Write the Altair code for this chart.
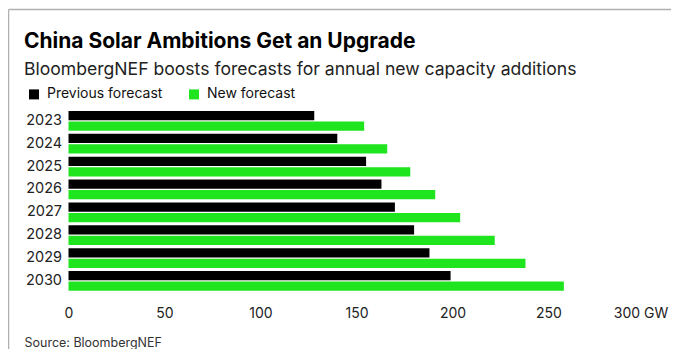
import altair as alt
import pandas as pd

years = ["2023", "2024", "2025", "2026", "2027", "2028", "2029", "2030"]
previous_forecast = [128, 140, 155, 163, 170, 180, 188, 199]
new_forecast = [154, 166, 178, 191, 204, 222, 238, 258]
series_names = ["Previous forecast", "New forecast"]
series_colors = ["#000000", "#1ee51e"]
x_ticks = [0, 50, 100, 150, 200, 250, 300]

rows = []
for i, y in enumerate(years):
    rows.append({"year": y, "series": series_names[0], "gw": previous_forecast[i]})
    rows.append({"year": y, "series": series_names[1], "gw": new_forecast[i]})
df = pd.DataFrame(rows)

FONT = "Inter"

bars = alt.Chart(df).mark_bar().encode(
    x=alt.X(
        "gw:Q",
        scale=alt.Scale(domain=[0, 300], nice=False, zero=True),
        axis=alt.Axis(
            values=x_ticks,
            labelExpr="datum.value == 300 ? '300 GW' : datum.label",
            labelFlush=False,
            labelOffset={"condition": {"test": "datum.value === 300", "value": -4}, "value": 0},
            grid=False,
            domain=False,
            ticks=False,
            labelPadding=14,
            labelFontSize=14,
            labelColor="#222222",
            labelFont=FONT,
            title="Source: BloombergNEF",
            titleX=-44.5,
            titleY=54,
            titleAlign="left",
            titleBaseline="alphabetic",
            titleFontWeight="normal",
            titleFontSize=12.5,
            titleColor="#333333",
            titleFont=FONT,
        ),
    ),
    y=alt.Y(
        "year:N",
        sort=years,
        scale=alt.Scale(paddingInner=0.14, paddingOuter=0.07),
        axis=alt.Axis(
            title=None,
            ticks=False,
            domain=False,
            labelPadding=7,
            labelFontSize=14.5,
            labelColor="#222222",
            labelFont=FONT,
        ),
    ),
    yOffset=alt.YOffset(
        "series:N",
        sort=series_names,
        scale=alt.Scale(paddingInner=0.12),
    ),
    color=alt.Color(
        "series:N",
        sort=series_names,
        scale=alt.Scale(domain=series_names, range=series_colors),
        legend=alt.Legend(
            title=None,
            orient="none",
            legendX=-41.5,
            legendY=-22,
            direction="horizontal",
            symbolType="square",
            symbolSize=100,
            symbolStrokeWidth=0,
            labelFontSize=14,
            labelFont=FONT,
            labelColor="#111111",
            labelOffset=6,
            columnPadding=24,
        ),
    ),
)

frame_df = pd.DataFrame({"k": [0]})
frame_left = alt.Chart(frame_df).mark_rule(color="#b0b0b0", strokeWidth=1.5).encode(
    x=alt.value(-60), y=alt.value(-100), y2=alt.value(240)
)
frame_top = alt.Chart(frame_df).mark_rule(color="#b0b0b0", strokeWidth=1.5).encode(
    x=alt.value(-60), x2=alt.value(603), y=alt.value(-100)
)

chart = alt.layer(frame_left, frame_top, bars).properties(
    width=576,
    height=183,
    padding={"left": 60.5, "top": 101.4, "right": 26.5, "bottom": 56.5},
    autosize=alt.AutoSizeParams(type="none"),
    title=alt.TitleParams(
        text="China Solar Ambitions Get an Upgrade",
        subtitle="BloombergNEF boosts forecasts for annual new capacity additions",
        anchor="start",
        frame="group",
        dx=-44.5,
        offset=-70,
        font=FONT,
        fontSize=21,
        fontWeight="bold",
        color="#000000",
        subtitleFont=FONT,
        subtitleFontSize=17.6,
        subtitleColor="#222222",
        subtitlePadding=9,
    ),
).configure_view(stroke=None)

chart.save("out.html", embed_options={"renderer": "svg", "actions": False})
